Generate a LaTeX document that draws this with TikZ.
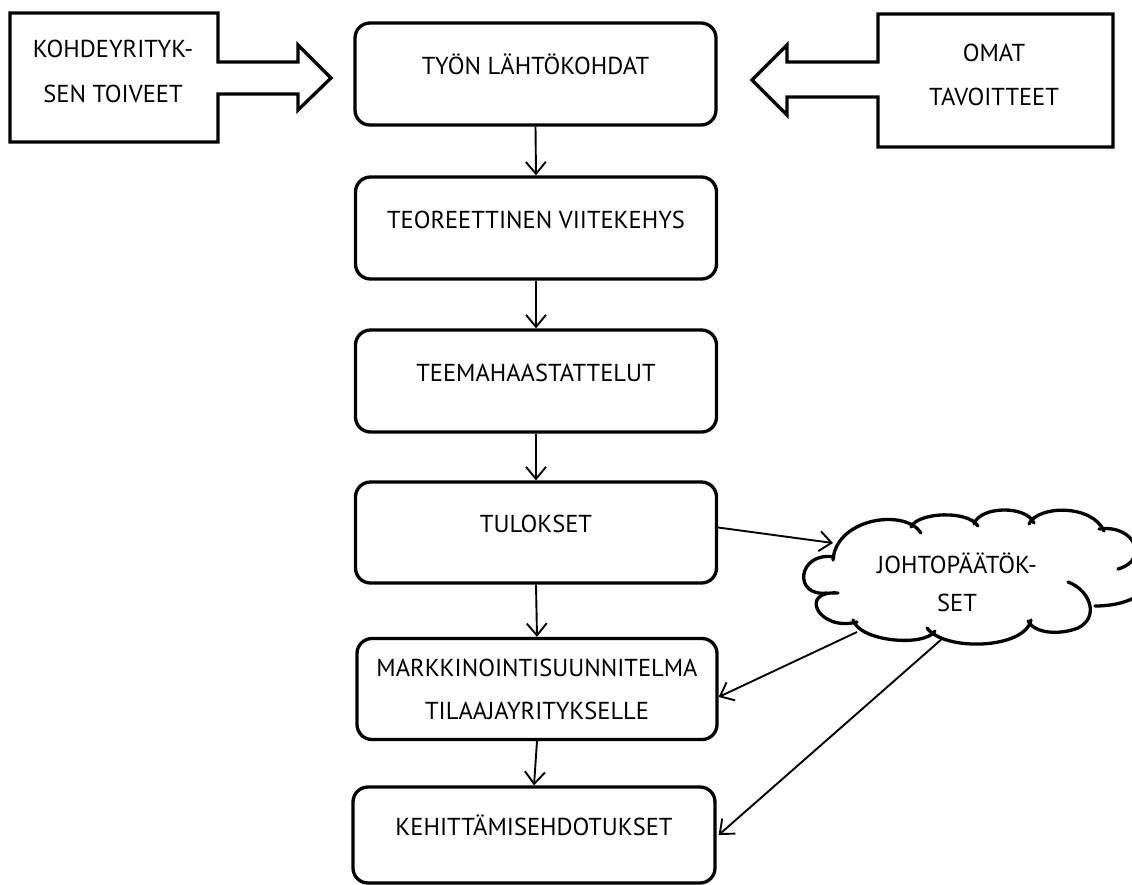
\documentclass[tikz,border=0pt]{standalone}
\usepackage{fontspec}
\setmainfont{PT Sans}
\usetikzlibrary{arrows.meta}
\begin{document}
\begin{tikzpicture}[x=1pt,y=-1pt,
  box/.style={draw, line width=3.3pt, rounded corners=15pt, minimum width=361pt,
    minimum height=102pt, inner sep=0pt, align=center,
    font=\fontsize{24.5}{43}\selectfont},
  conn/.style={line width=1.9pt, -{Straight Barb[length=12pt,width=20pt]}},
  blockarrow/.style={draw, line width=3.3pt, line join=miter},
  lobe/.style={line width=3.3pt, line cap=round},
  lbl/.style={inner sep=0pt, align=center}]
\useasboundingbox (0,0) rectangle (1132,884);

% main boxes
\node[box] (b1) at (535.5,74) {\smash{TYÖN LÄHTÖKOHDAT}};
\node[box] (b2) at (536,228) {\smash{TEOREETTINEN VIITEKEHYS}};
\node[box] (b3) at (536,381) {\smash{TEEMAHAASTATTELUT}};
\node[box, minimum height=101pt] (b4) at (536,532.5) {\smash{TULOKSET}};
\node[box, minimum width=360pt, minimum height=101pt] (b5) at (537,689)
  {MARKKINOINTISUUNNITELMA\\TILAAJAYRITYKSELLE};
\node[box, minimum width=362pt, minimum height=96pt] (b6) at (534,835) {\smash{KEHITTÄMISEHDOTUKSET}};

% left block arrow
\draw[blockarrow] (10,13) -- (218,13) -- (218,62) -- (298,62) -- (298,45) -- (331,78)
  -- (298,110) -- (298,94) -- (218,94) -- (218,142) -- (10,142) -- cycle;
\node[lbl, font=\fontsize{24.5}{45}\selectfont] (kt) at (113,71) {KOHDEYRITYK-\\SEN TOIVEET};

% right block arrow
\draw[blockarrow] (1113,14) -- (878,14) -- (878,62) -- (787,62) -- (787,45) -- (752,80)
  -- (787,115) -- (787,97) -- (878,97) -- (878,147) -- (1113,147) -- cycle;
\node[lbl, font=\fontsize{24.5}{44}\selectfont] (ot) at (994,75) {OMAT\\TAVOITTEET};

% cloud
\draw[lobe] (833,560) .. controls (836,518) and (905,508) .. (921,533);
\draw[lobe] (911,527) .. controls (918,512) and (968,510) .. (978,526);
\draw[lobe] (974,524) .. controls (980,506) and (1026,505) .. (1034,523);
\draw[lobe] (1029,524) .. controls (1038,505) and (1092,504) .. (1104,531);
\draw[lobe] (1099,529) .. controls (1135,524) and (1150,560) .. (1118,569);
\draw[lobe] (1150,580) .. controls (1145,598) and (1120,606) .. (1095,606);
\draw[lobe] (1068,582) .. controls (1090,590) and (1100,617) .. (1078,628)
  .. controls (1060,635) and (1035,634) .. (1028,621);
\draw[lobe] (1031,620) .. controls (1025,649) and (945,652) .. (927,628);
\draw[lobe] (935,631) .. controls (925,647) and (860,642) .. (853,620);
\draw[lobe] (857,622) .. controls (818,632) and (798,590) .. (838,593);
\draw[lobe] (827,593) .. controls (792,597) and (798,551) .. (834,557);
\node[lbl, font=\fontsize{24.5}{38}\selectfont] (jp) at (957,582) {JOHTOPÄÄTÖK-\\SET};
\coordinate (cin) at (833,543);
\coordinate (cout1) at (857,632);
\coordinate (cout2) at (943,638);

% connectors
\draw[conn] (b1.south) -- (b2.north);
\draw[conn] (b2.south) -- (b3.north);
\draw[conn] (b3.south) -- (b4.north);
\draw[conn] (b4.south) -- (b5.north);
\draw[conn] (b5.south) -- (b6.north);
\draw[conn] ([yshift=5pt]b4.east) -- (cin);
\draw[conn] (cout1) -- ([yshift=-8pt]b5.east);
\draw[conn] (cout2) -- ([xshift=2pt]b6.east);
\end{tikzpicture}
\end{document}
